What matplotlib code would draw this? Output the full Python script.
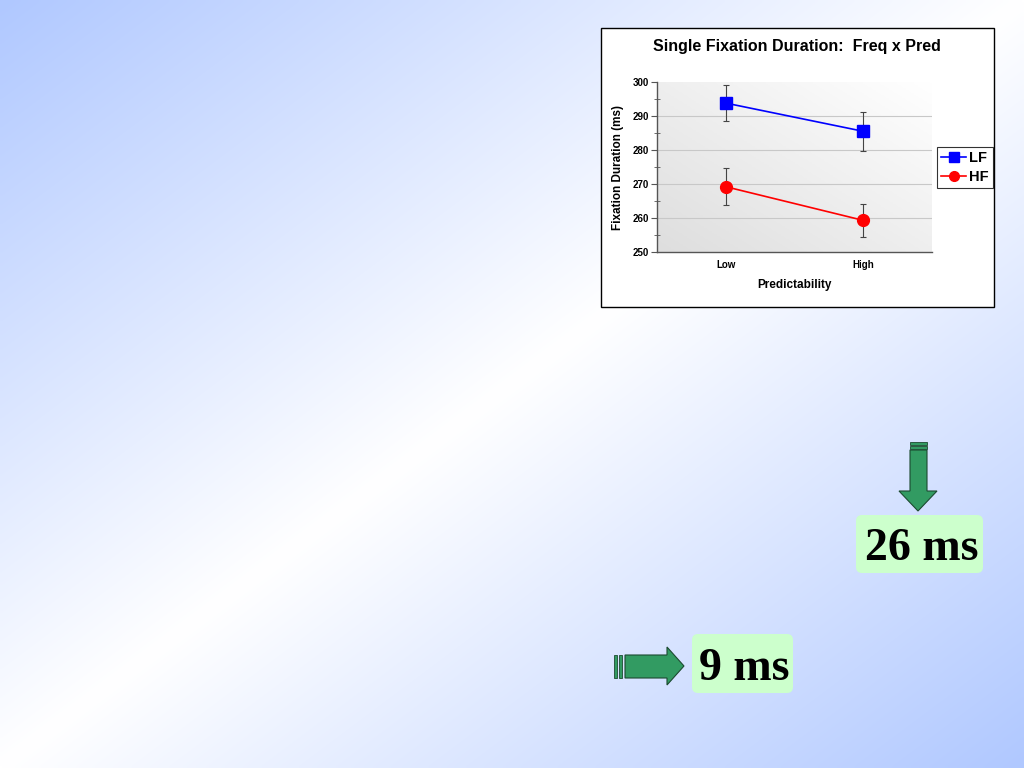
import numpy as np
import matplotlib
matplotlib.use("Agg")
import matplotlib.pyplot as plt
from matplotlib.patches import Rectangle, FancyBboxPatch, Polygon
from matplotlib.lines import Line2D
from matplotlib.ticker import MultipleLocator

# data
categories = ["Low", "High"]
lf_values = [293.8, 285.5]
lf_err = [5.4, 5.8]
hf_values = [269.2, 259.3]
hf_err = [5.4, 4.9]
effect_labels = ["26 ms", "9 ms"]

W, H = 1024, 768
fig = plt.figure(figsize=(W / 100, H / 100), dpi=100)

# slide background: blue corners, white along the anti-diagonal
bg = fig.add_axes([0, 0, 1, 1])
xx, yy = np.meshgrid(np.linspace(0, 1, 256), np.linspace(0, 1, 192))
v = np.abs(xx + yy - 1.0)
blue = np.array([176, 200, 255]) / 255.0
img = 1.0 - v[..., None] * (1.0 - blue)
bg.imshow(img, extent=[0, W, H, 0], aspect="auto", interpolation="bilinear")
bg.set_xlim(0, W)
bg.set_ylim(H, 0)
bg.axis("off")

# chart frame
bg.add_patch(Rectangle((601, 28), 393, 279, facecolor="white",
                       edgecolor="black", linewidth=1.0))
bg.text(797, 47, "Single Fixation Duration:  Freq x Pred", ha="center",
        va="center", fontsize=11.5, fontweight="bold", family="Liberation Sans")

# arrows
green = "#329b62"
edge = "#1c4a30"
down = [(910, 450), (927, 450), (927, 491), (937, 491), (918, 511),
        (899, 491), (910, 491)]
bg.add_patch(Polygon(down, closed=True, facecolor=green, edgecolor=edge, lw=0.8))
for y0 in (442, 446):
    bg.add_patch(Rectangle((910, y0), 17, 2.5, facecolor=green,
                           edgecolor=edge, lw=0.6))
right = [(625, 655), (667, 655), (667, 647), (684, 666), (667, 685),
         (667, 678), (625, 678)]
bg.add_patch(Polygon(right, closed=True, facecolor=green, edgecolor=edge, lw=0.8))
for x0 in (614, 619):
    bg.add_patch(Rectangle((x0, 655), 3, 23, facecolor=green,
                           edgecolor=edge, lw=0.6))

# effect boxes
boxes = [(856, 515, 127, 58), (692, 634, 101, 59)]
for (bx, by, bw, bh), lab in zip(boxes, effect_labels):
    bg.add_patch(FancyBboxPatch((bx + 6, by + 6), bw - 12, bh - 12,
                                boxstyle="round,pad=6", facecolor="#ccffcc",
                                edgecolor="none"))
    bg.text(bx + bw / 2 + 2, by + bh / 2 + 5, lab, ha="center", va="center",
            fontsize=33, fontweight="bold", family="Liberation Serif")

# plot area
ax = fig.add_axes([657 / W, 1 - 252 / H, 275 / W, 170 / H])
x = np.arange(len(categories))
ax.imshow(np.linspace(0, 1, 64)[None, :] * 0.5 + np.linspace(0, 1, 64)[:, None] * 0.5,
          extent=[-0.5, 1.5, 250, 300], origin="lower", aspect="auto",
          cmap=matplotlib.colors.LinearSegmentedColormap.from_list(
              "g", ["#dedede", "#ffffff"]), zorder=0)
for y in (260, 270, 280, 290):
    ax.axhline(y, color="#c8c8c8", lw=0.8, zorder=1)

ax.errorbar(x, lf_values, yerr=lf_err, color="#0000ff", ecolor="#444444",
            elinewidth=0.8, capsize=2.5, capthick=0.8, marker="s",
            markersize=8.5, lw=1.2, zorder=3)
ax.errorbar(x, hf_values, yerr=hf_err, color="#ff0000", ecolor="#444444",
            elinewidth=0.8, capsize=2.5, capthick=0.8, marker="o",
            markersize=8.5, lw=1.2, zorder=3)

ax.set_xlim(-0.5, 1.5)
ax.set_ylim(250, 300)
ax.set_xticks(x)
ax.set_xticklabels(categories, fontsize=7, fontweight="bold",
                   family="Liberation Sans")
ax.set_yticks([250, 260, 270, 280, 290, 300])
ax.set_yticklabels([str(t) for t in [250, 260, 270, 280, 290, 300]],
                   fontsize=7, fontweight="bold", family="Liberation Sans")
ax.yaxis.set_minor_locator(MultipleLocator(5))
ax.tick_params(axis="y", which="major", length=4, direction="out",
               color="#555555", pad=2)
ax.tick_params(axis="y", which="minor", length=4, direction="inout",
               color="#555555")
ax.tick_params(axis="x", length=0, pad=6)
for s in ("top", "right"):
    ax.spines[s].set_visible(False)
for s in ("left", "bottom"):
    ax.spines[s].set_color("#555555")
    ax.spines[s].set_linewidth(1.0)
ax.set_xlabel("Predictability", fontsize=8.5, fontweight="bold",
              family="Liberation Sans", labelpad=6)
ax.set_ylabel("Fixation Duration (ms)", fontsize=8.5, fontweight="bold",
              family="Liberation Sans", labelpad=6)

handles = [Line2D([], [], color="#0000ff", marker="s", markersize=7, lw=1.2),
           Line2D([], [], color="#ff0000", marker="o", markersize=7, lw=1.2)]
leg = fig.legend(handles, ["LF", "HF"], loc="center",
                 bbox_to_anchor=(965 / W, 1 - 167.5 / H),
                 prop={"family": "Liberation Sans", "weight": "bold", "size": 10.5},
                 frameon=True, fancybox=False, edgecolor="black",
                 handlelength=1.7, handletextpad=0.2, borderpad=0.3,
                 borderaxespad=0, labelspacing=0.35)
leg.get_frame().set_linewidth(0.8)

fig.savefig("out.png", dpi=100)
